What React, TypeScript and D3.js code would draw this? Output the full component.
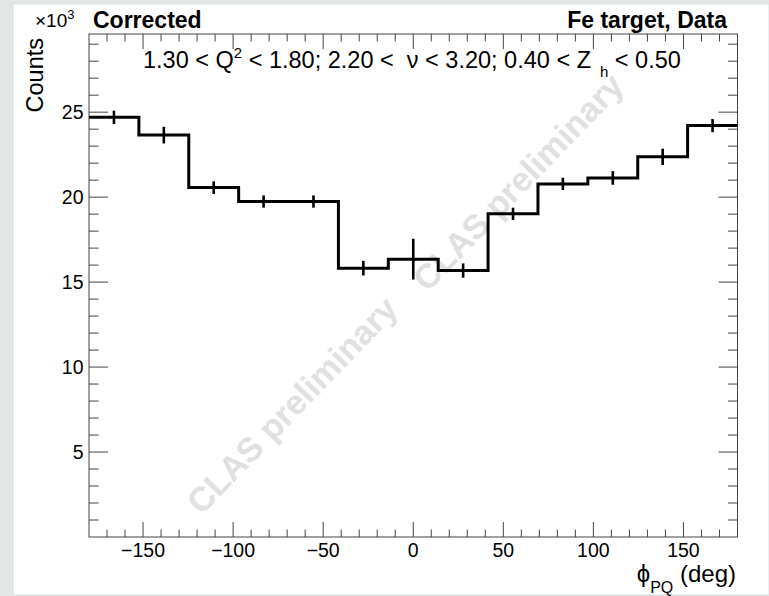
import React from "react";
import * as d3 from "d3";

// ---- data (counts in units of 10^3) ----
const phiRange = [-180, 180];
const counts = [24.7, 23.65, 20.56, 19.74, 19.74, 15.82, 16.35, 15.68, 19.02, 20.78, 21.13, 22.37, 24.21];
const errors = [0.39, 0.49, 0.37, 0.36, 0.36, 0.43, 1.2, 0.42, 0.36, 0.36, 0.4, 0.48, 0.39];
const xMajorTicks = [-150, -100, -50, 0, 50, 100, 150];
const yMajorTicks = [5, 10, 15, 20, 25];
const yMax = 29.6;

const W = 769;
const H = 596;
const frame = { left: 89, right: 737.5, top: 34, bottom: 537 };
const FONT = "'Liberation Sans', Arial, Helvetica, sans-serif";

export default function App() {
  const x = d3.scaleLinear().domain(phiRange).range([frame.left, frame.right]);
  const y = d3.scaleLinear().domain([0, yMax]).range([frame.bottom, frame.top]);

  const n = counts.length;
  const binW = (phiRange[1] - phiRange[0]) / n;
  const edges = d3.range(n + 1).map((i) => phiRange[0] + i * binW);
  const centers = d3.range(n).map((i) => phiRange[0] + (i + 0.5) * binW);

  const pts: [number, number][] = counts.map((c, i) => [edges[i], c]);
  pts.push([edges[n], counts[n - 1]]);
  const line = d3
    .line<[number, number]>()
    .x((d) => x(d[0]))
    .y((d) => y(d[1]))
    .curve(d3.curveStepAfter);

  const xMinor = d3.range(-170, 180, 10).filter((v) => !xMajorTicks.includes(v));
  const yMinor = d3.range(1, Math.floor(yMax) + 1).filter((v) => !yMajorTicks.includes(v));

  const axisColor = "#444";
  const xMajLen = 15, xMinLen = 7.5, yMajLen = 19, yMinLen = 9.5;

  return (
    <svg
      width={W}
      height={H}
      style={{ position: "absolute", left: 0, top: 0, display: "block" }}
      fontFamily={FONT}
    >
      <rect x={0} y={0} width={W} height={H} fill="#e4e6e5" />
      <rect x={13} y={4} width={W - 13} height={H - 5} fill="#ffffff" stroke="#d3e2e2" strokeWidth={1} />

      {/* watermarks */}
      <g fill="#e0e0e0" fontWeight="bold" fontSize={34} textAnchor="middle">
        <text transform="translate(292,405) rotate(-46)" dy="12">CLAS preliminary</text>
        <text transform="translate(518,182) rotate(-46)" dy="12">CLAS preliminary</text>
      </g>

      {/* frame */}
      <rect
        x={frame.left}
        y={frame.top}
        width={frame.right - frame.left}
        height={frame.bottom - frame.top}
        fill="none"
        stroke={axisColor}
        strokeWidth={1}
      />

      {/* ticks */}
      <g stroke={axisColor} strokeWidth={1}>
        {xMajorTicks.map((t) => (
          <g key={"xM" + t}>
            <line x1={x(t)} x2={x(t)} y1={frame.bottom} y2={frame.bottom - xMajLen} />
            <line x1={x(t)} x2={x(t)} y1={frame.top} y2={frame.top + xMajLen} />
          </g>
        ))}
        {xMinor.map((t) => (
          <g key={"xm" + t}>
            <line x1={x(t)} x2={x(t)} y1={frame.bottom} y2={frame.bottom - xMinLen} />
            <line x1={x(t)} x2={x(t)} y1={frame.top} y2={frame.top + xMinLen} />
          </g>
        ))}
        {yMajorTicks.map((t) => (
          <g key={"yM" + t}>
            <line x1={frame.left} x2={frame.left + yMajLen} y1={y(t)} y2={y(t)} />
            <line x1={frame.right} x2={frame.right - yMajLen} y1={y(t)} y2={y(t)} />
          </g>
        ))}
        {yMinor.map((t) => (
          <g key={"ym" + t}>
            <line x1={frame.left} x2={frame.left + yMinLen} y1={y(t)} y2={y(t)} />
            <line x1={frame.right} x2={frame.right - yMinLen} y1={y(t)} y2={y(t)} />
          </g>
        ))}
      </g>

      {/* tick labels */}
      <g fontSize={19.5} fill="#000">
        {xMajorTicks.map((t) => (
          <text key={"xl" + t} x={x(t)} y={557} textAnchor="middle">
            {t < 0 ? "\u2212" + Math.abs(t) : String(t)}
          </text>
        ))}
        {yMajorTicks.map((t) => (
          <text key={"yl" + t} x={83.5} y={y(t) + 7} textAnchor="end">
            {t}
          </text>
        ))}
      </g>

      {/* histogram */}
      <path d={line(pts) || ""} fill="none" stroke="#000" strokeWidth={3} />
      <g stroke="#000" strokeWidth={2.6}>
        {centers.map((c, i) => (
          <line key={"e" + i} x1={x(c)} x2={x(c)} y1={y(counts[i] - errors[i])} y2={y(counts[i] + errors[i])} />
        ))}
      </g>

      {/* titles */}
      <text x={93} y={28} fontSize={23} fontWeight="bold">Corrected</text>
      <text x={727} y={28} fontSize={23} fontWeight="bold" textAnchor="end">Fe target, Data</text>

      <text x={143} y={68} fontSize={23.5} style={{ whiteSpace: "pre" }}>
        <tspan>1.30 &lt; Q</tspan>
        <tspan fontSize={15} dy={-10}>2</tspan>
        <tspan dy={10}>{" < 1.80; 2.20 <  \u03bd < 3.20; 0.40 < Z"}</tspan>
        <tspan fontSize={15} dx={9} dy={9}>h</tspan>
        <tspan dy={-9}>{" < 0.50"}</tspan>
      </text>

      {/* y axis title */}
      <text transform="translate(43,38) rotate(-90)" fontSize={23.5} textAnchor="end">Counts</text>
      <text x={35} y={27} fontSize={19}>
        <tspan>{"\u00d710"}</tspan>
        <tspan fontSize={13} dy={-8}>3</tspan>
      </text>

      {/* x axis title */}
      <text x={736} y={582} fontSize={24} textAnchor="end" style={{ whiteSpace: "pre" }}>
        <tspan>{"\u03d5"}</tspan>
        <tspan fontSize={16} dy={11}>PQ</tspan>
        <tspan dy={-11}>{" (deg)"}</tspan>
      </text>
    </svg>
  );
}
